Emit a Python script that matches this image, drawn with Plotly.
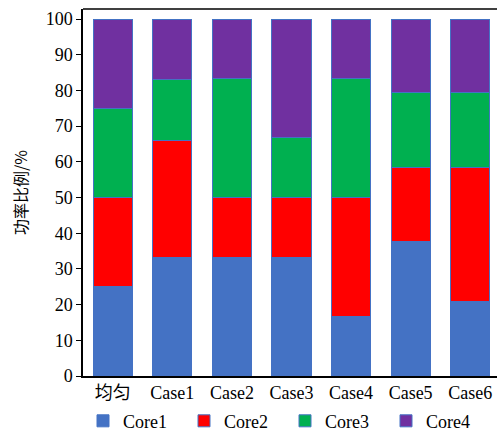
import plotly.graph_objects as go

categories = ["均匀", "Case1", "Case2", "Case3", "Case4", "Case5", "Case6"]
core1 = [25, 33.3, 33.3, 33.3, 16.7, 37.7, 20.9]
core2 = [25, 32.6, 16.7, 16.7, 33.3, 20.7, 37.5]
core3 = [25, 17.1, 33.3, 16.7, 33.3, 20.9, 20.9]
core4 = [25, 17.0, 16.7, 33.3, 16.7, 20.7, 20.7]
series_names = ["Core1", "Core2", "Core3", "Core4"]
colors = ["#4472C4", "#FF0000", "#00B050", "#7030A0"]
y_ticks = [0, 10, 20, 30, 40, 50, 60, 70, 80, 90, 100]

fig = go.Figure()
for name, vals, col in zip(series_names, [core1, core2, core3, core4], colors):
    fig.add_trace(go.Bar(
        x=categories, y=vals, name=name,
        marker=dict(color=col, line=dict(color="#4472C4", width=1)),
    ))

font_family = "Liberation Serif, DejaVu Serif, serif"
fig.update_layout(
    barmode="stack",
    bargap=0.345,
    width=497, height=432,
    margin=dict(l=83, r=0, t=9, b=56),
    plot_bgcolor="white",
    paper_bgcolor="white",
    font=dict(family=font_family, size=18, color="black"),
    showlegend=True,
    legend=dict(
        orientation="h", x=0.0, xanchor="left",
        yref="container", y=0.068, yanchor="top",
        entrywidth=56, entrywidthmode="pixels",
        font=dict(family=font_family, size=18, color="black"),
        traceorder="normal",
    ),
)
fig.update_xaxes(
    showline=True, linecolor="black", linewidth=1.5, mirror=False, automargin=False,
    ticks="", range=[-0.5, 6.45], showgrid=False,
    tickfont=dict(family="Liberation Serif, Noto Sans CJK SC, serif", size=18),
)
fig.add_shape(type="line", xref="paper", yref="paper", x0=0, x1=1, y0=1, y1=1,
              line=dict(color="black", width=1.5))
fig.update_yaxes(
    range=[0, 102.8], tickvals=y_ticks, automargin=False,
    showline=True, linecolor="black", linewidth=1.5,
    ticks="outside", ticklen=5, tickcolor="black", showgrid=False, zeroline=False,
    title=dict(text="功率比例/%", font=dict(family="Noto Sans CJK SC", size=16), standoff=14),
)
fig.write_html("out.html", config={"displayModeBar": False},
               post_script="document.body.style.margin='0';")
